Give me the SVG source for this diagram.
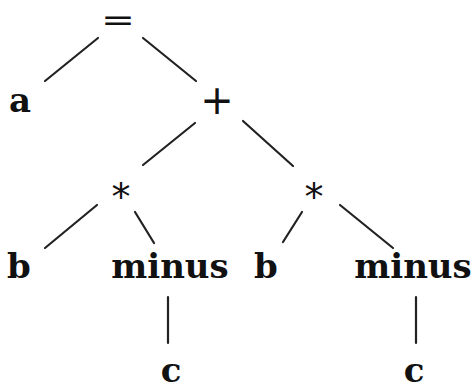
<svg xmlns="http://www.w3.org/2000/svg" width="472" height="391" viewBox="0 0 472 391">
<style>
.t{font-family:"DejaVu Serif","Liberation Serif",serif;font-weight:bold;fill:#111;text-anchor:middle}
.w{font-size:34px}
.op{font-family:"DejaVu Sans","Liberation Sans",sans-serif;fill:#111;text-anchor:middle}
.e{stroke:#222;stroke-width:2.2;stroke-linecap:round;fill:none}
</style>
<rect width="472" height="391" fill="#fff"/>
<g id="connectors">
<line class="e" x1="98" y1="38" x2="45" y2="81"/>
<line class="e" x1="143" y1="38" x2="196" y2="81"/>
<line class="e" x1="195" y1="123" x2="143" y2="165"/>
<line class="e" x1="243" y1="121" x2="293" y2="166"/>
<line class="e" x1="97" y1="205" x2="45" y2="248"/>
<line class="e" x1="135" y1="212" x2="154" y2="243"/>
<line class="e" x1="302" y1="212" x2="283" y2="242"/>
<line class="e" x1="340" y1="205" x2="393" y2="248"/>
<line class="e" x1="168" y1="297" x2="168" y2="343"/>
<line class="e" x1="416" y1="297" x2="416" y2="343"/>
</g>
<g id="n-eq"><text class="op" x="118" y="29.5" font-size="31" textLength="34" lengthAdjust="spacingAndGlyphs">=</text></g>
<g id="n-a"><text class="t w" x="20" y="112">a</text></g>
<g id="n-plus"><text class="op" x="217" y="114" font-size="40">+</text></g>
<g id="n-mul1"><text class="op" x="121" y="210" font-size="38">*</text></g>
<g id="n-mul2"><text class="op" x="314" y="210" font-size="38">*</text></g>
<g id="n-b1"><text class="t w" x="19" y="278">b</text></g>
<g id="n-minus1"><text class="t w" x="170" y="278">minus</text></g>
<g id="n-b2"><text class="t w" x="266" y="278">b</text></g>
<g id="n-minus2"><text class="t w" x="413" y="278">minus</text></g>
<g id="n-c1"><text class="t w" x="171" y="382">c</text></g>
<g id="n-c2"><text class="t w" x="414" y="382">c</text></g>
</svg>
